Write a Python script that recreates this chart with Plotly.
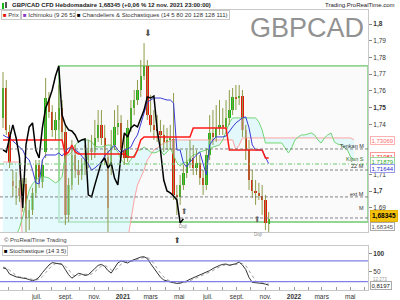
import plotly.graph_objects as go
import pandas as pd

FONT = "Liberation Sans, Arial, sans-serif"
W, H, RM = 400, 300, 32
PW = W - RM

# ---------------- data (weekly GBP/CAD) ----------------
START = "2020-04-20"
opens = [1.7438,1.7617,1.7354,1.7061,1.7031,1.7019,1.6971,1.7043,1.6839,1.6887,
 1.6989,1.7156,1.7055,1.7234,1.7557,1.7473,1.7366,1.7426,1.7497,1.7354,
 1.6857,1.7037,1.7216,1.7126,1.7096,1.7156,1.7186,1.7246,1.7234,1.7318,
 1.7396,1.7318,1.7204,1.7156,1.7276,1.7384,1.7408,1.7246,1.7198,1.7378,
 1.7497,1.7545,1.7605,1.7689,1.7749,1.7455,1.7396,1.7366,1.7360,1.7336,
 1.7294,1.7306,1.7312,1.6977,1.6965,1.7037,1.7108,1.7174,1.7198,1.7138,
 1.7168,1.7078,1.7037,1.7216,1.7348,1.7324,1.7378,1.7396,1.7384,1.7438,
 1.7485,1.7563,1.7557,1.7569,1.7366,1.7246,1.7066,1.7001,1.6989,1.6971,
 1.6947,1.6803]
highs = [1.7713,1.7665,1.7396,1.7126,1.7114,1.7066,1.7078,1.7078,1.6947,1.7019,
 1.7186,1.7186,1.7186,1.7677,1.7593,1.7515,1.7473,1.7635,1.7545,1.7396,
 1.7078,1.7306,1.7276,1.7186,1.7198,1.7276,1.7306,1.7336,1.7426,1.7485,
 1.7485,1.7396,1.7246,1.7366,1.7485,1.7515,1.7455,1.7336,1.7426,1.7545,
 1.7605,1.7665,1.7785,1.7886,1.7785,1.7575,1.7485,1.7455,1.7426,1.7396,
 1.7378,1.7396,1.7587,1.7037,1.7096,1.7156,1.7246,1.7306,1.7276,1.7246,
 1.7216,1.7126,1.7258,1.7455,1.7485,1.7515,1.7545,1.7497,1.7545,1.7605,
 1.7617,1.7635,1.7635,1.7605,1.7396,1.7306,1.7126,1.7066,1.7049,1.7037,
 1.6977,1.6875]
lows = [1.7378,1.7336,1.7138,1.6965,1.6917,1.6935,1.6875,1.6755,1.6767,1.6857,
 1.6959,1.7019,1.7019,1.7198,1.7438,1.7324,1.7306,1.7366,1.7306,1.6797,
 1.6815,1.7007,1.7078,1.7037,1.7066,1.7096,1.7138,1.7186,1.7198,1.7294,
 1.7276,1.7156,1.6755,1.7096,1.7246,1.7336,1.7198,1.7156,1.7174,1.7354,
 1.7455,1.7515,1.7563,1.7665,1.7426,1.7354,1.7306,1.7294,1.7276,1.7234,
 1.7246,1.7246,1.6947,1.6857,1.6917,1.7007,1.7078,1.7138,1.7096,1.7096,
 1.7037,1.6977,1.7007,1.7186,1.7276,1.7294,1.7336,1.7336,1.7366,1.7396,
 1.7455,1.7485,1.7515,1.7324,1.7186,1.7007,1.6959,1.6917,1.6947,1.6857,
 1.6767,1.6749]
closes = [1.7617,1.7366,1.7168,1.7031,1.7019,1.6971,1.7043,1.6839,1.6887,1.6989,
 1.7156,1.7055,1.7156,1.7557,1.7473,1.7366,1.7426,1.7497,1.7354,1.6857,
 1.7037,1.7216,1.7126,1.7096,1.7156,1.7186,1.7246,1.7234,1.7318,1.7396,
 1.7318,1.7204,1.6899,1.7276,1.7384,1.7408,1.7246,1.7198,1.7378,1.7497,
 1.7545,1.7605,1.7689,1.7749,1.7455,1.7396,1.7366,1.7360,1.7336,1.7294,
 1.7306,1.7312,1.6977,1.6965,1.7037,1.7108,1.7174,1.7198,1.7138,1.7168,
 1.7078,1.7037,1.7216,1.7348,1.7324,1.7378,1.7396,1.7384,1.7438,1.7485,
 1.7563,1.7557,1.7569,1.7366,1.7246,1.7066,1.7001,1.6989,1.6971,1.6947,
 1.6809,1.68345]

tenkan = [1.7336,1.7324,1.7318,1.7300,1.7282,1.7270,1.7246,1.7204,1.7186,1.7126,
 1.7049,1.7043,1.7186,1.7216,1.7216,1.7216,1.7216,1.7228,1.7210,1.7234,
 1.7258,1.7258,1.7246,1.7234,1.7210,1.7186,1.7162,1.7126,1.7138,1.7156,
 1.7174,1.7210,1.7234,1.7258,1.7276,1.7246,1.7228,1.7246,1.7252,1.7264,
 1.7306,1.7336,1.7396,1.7467,1.7533,1.7545,1.7557,1.7557,1.7557,1.7551,
 1.7545,1.7545,1.7527,1.7246,1.7246,1.7168,1.7144,1.7174,1.7198,1.7216,
 1.7234,1.7156,1.7096,1.7276,1.7306,1.7324,1.7324,1.7324,1.7330,1.7360,
 1.7384,1.7408,1.7426,1.7438,1.7444,1.7378,1.7276,1.7246,1.7246,1.7246,
 1.7204,1.71644]
kijun = ([1.7306]*19 + [1.7216,1.7234,1.7276,1.7234] + [1.7222]*15 + [1.7204]*3
         + [1.7246,1.7306] + [1.7324]*15 + [1.7378]*11 + [1.7246]*11 + [1.71981]*2)
senkou_a = [1.6678,1.6678,1.6695,1.6707,1.6731,1.6779,1.6845,1.6935,1.7007,1.7043,
 1.7066,1.7084,1.7084,1.7084,1.7078,1.7066,1.7049,1.7061,1.7084,1.7216,
 1.7216,1.7234,1.7276,1.7294,1.7306,1.7306,1.7306,1.7294,1.7270,1.7264,
 1.7264,1.7270,1.7276,1.7276,1.7258,1.7234,1.7186,1.7168,1.7162,1.7186,
 1.7216,1.7246,1.7246,1.7264,1.7246,1.7234,1.7228,1.7234,1.7246,1.7216,
 1.7234,1.7258,1.7216,1.7168,1.7150,1.7168,1.7174,1.7198,1.7216,1.7222,
 1.7234,1.7240,1.7246,1.7252,1.7264,1.7270,1.7276,1.7306,1.7354,1.7408,
 1.7438,1.7438,1.7438,1.7438,1.7438,1.7438,1.7438,1.7438,1.7414,1.7366,
 1.7288,1.7288,1.7288,1.7288,1.7288,1.7288,1.7258,1.7228,1.7258,1.7306,
 1.7324,1.7336,1.7336,1.7342,1.7348,1.7336,1.7306,1.7288,1.7318,1.7336,
 1.7348,1.7294,1.7282,1.7276,1.7258,1.7246,1.7204,1.71879]
senkou_b = ([1.7174]*6 + [1.6648]*32
            + [1.6707,1.6827,1.6947,1.7037,1.7078,1.7126,1.7186,1.7216,1.7246,1.7258,1.7276,1.7288,1.7294,1.7300]
            + [1.7306]*19 + [1.7246,1.7276] + [1.7318]*34 + [1.73069])

stoch_k = [60,57,42,37,34,32,31,29,26,23, 26,33,46,58,68,75,73,70,70,55,
 40,30,38,44,42,38,40,48,58,67, 70,64,52,45,58,74,80,76,74,80,
 84,88,91,92,87,72,58,44,33,25, 21,19,17,15,16,18,22,27,31,36,
 39,42,46,52,58,63,67,70,71,67, 69,72,77,68,55,32,18,17,18,15,
 13,10]
stoch_d = [62,60,53,45,38,34,32,31,29,26, 25,27,35,46,57,67,72,73,71,65,
 55,42,36,37,41,41,40,42,49,58, 65,67,62,54,52,59,71,77,77,77,
 79,84,88,90,90,84,72,58,45,34, 26,22,19,17,16,16,19,22,27,31,
 35,39,42,47,52,58,63,67,69,69, 69,69,73,72,67,52,35,22,18,17,
 15,13]

LAG = 26
levels = [1.7252, 1.7162, 1.7126, 1.6965, 1.6839]
level_names = ["Tenkan M", "Kijun S", "22 M", "ext M", "M"]
BOX_START, BOX_LOW, BOX_HIGH = "2020-08-17 12:00", 1.6815, 1.7749
X_START, X_END = "2020-04-13 14:00", "2022-06-07 22:00"

price_ticks = [1.69, 1.70, 1.71, 1.74, 1.75, 1.76, 1.77, 1.78, 1.79, 1.80]
price_tick_text = ["1,69", "<b>1,7</b>", "1,71", "1,74", "<b>1,75</b>", "1,76", "1,77", "1,78", "1,79", "<b>1,8</b>"]
month_ticks = pd.date_range("2020-05-01", "2022-06-01", freq="MS")
month_labels = ["", "", "juil.", "", "sept.", "", "nov.", "", "<b>2021</b>", "", "mars", "", "mai", "",
                "juil.", "", "sept.", "", "nov.", "", "<b>2022</b>", "", "mars", "", "mai", ""]

# ---------------- figure ----------------
n = len(closes)
dates = pd.date_range(START, periods=len(senkou_a), freq="7D")
cdates = dates[:n]

fig = go.Figure()
# Ichimoku cloud
fig.add_trace(go.Scatter(x=dates, y=senkou_b, mode="lines", line=dict(color="#ffa3a3", width=1), hoverinfo="skip"))
fig.add_trace(go.Scatter(x=dates, y=senkou_a, mode="lines", line=dict(color="#74d674", width=1),
                         fill="tonexty", fillcolor="rgba(212,246,252,0.6)", hoverinfo="skip"))
# wicks
wx, wy = [], []
for d, h, l in zip(cdates, highs, lows):
    wx += [d, d, None]
    wy += [h, l, None]
fig.add_trace(go.Scatter(x=wx, y=wy, mode="lines", line=dict(color="#8e9b48", width=1), hoverinfo="skip"))
# bodies
body = [c - o for o, c in zip(opens, closes)]
bcol = ["#17b817" if c >= o else "#e4150b" for o, c in zip(opens, closes)]
fig.add_trace(go.Bar(x=cdates, y=body, base=opens, marker=dict(color=bcol, line=dict(width=0)),
                     width=5 * 86400000, hoverinfo="skip"))
# Tenkan / Kijun / Chikou
fig.add_trace(go.Scatter(x=cdates, y=tenkan, mode="lines", line=dict(color="#3a3ad6", width=1), hoverinfo="skip"))
fig.add_trace(go.Scatter(x=cdates, y=kijun, mode="lines", line=dict(color="#ff1a1a", width=1.5), hoverinfo="skip"))
fig.add_trace(go.Scatter(x=cdates[:n - LAG], y=closes[LAG:], mode="lines", line=dict(color="#000000", width=1.5),
                         hoverinfo="skip"))
# Stochastic
fig.add_trace(go.Scatter(x=cdates, y=stoch_d, mode="lines", line=dict(color="#a0a0a0", width=1, dash="dot"),
                         xaxis="x2", yaxis="y2", hoverinfo="skip"))
fig.add_trace(go.Scatter(x=cdates, y=stoch_k, mode="lines", line=dict(color="#333333", width=1),
                         xaxis="x2", yaxis="y2", hoverinfo="skip"))


def px(x):
    return x / PW


def py(y):
    return (H - y) / H


shapes = []
shapes.append(dict(type="rect", xref="x", yref="y", x0=BOX_START, x1=X_END, y0=BOX_LOW, y1=BOX_HIGH,
                   line=dict(color="#92d692", width=1.8), fillcolor="rgba(0,0,0,0.018)", layer="below"))
for lv, nm in zip(levels, level_names):
    if nm == "Kijun S":
        ln = dict(color="#72c672", width=1, dash="4px,2px,1px,2px")
    else:
        ln = dict(color="#666666", width=0.8, dash="3px,2px")
    shapes.append(dict(type="line", xref="paper", yref="y", x0=0, x1=1, y0=lv, y1=lv, line=ln))
for lv in (20, 80):
    shapes.append(dict(type="line", xref="paper", yref="y2", x0=0, x1=1, y0=lv, y1=lv,
                       line=dict(color="#8080e6", width=1.2)))
# header icon
shapes += [
    dict(type="rect", xref="paper", yref="paper", x0=px(2), x1=px(4), y0=py(9), y1=py(3), fillcolor="#17b817", line=dict(width=0)),
    dict(type="rect", xref="paper", yref="paper", x0=px(5), x1=px(7), y0=py(8), y1=py(2), fillcolor="#555", line=dict(width=0)),
]
fig.update_layout(shapes=shapes)

anns = []


def ann(x, y, text, size=6.5, color="#333", xanchor="left", family=FONT, **kw):
    anns.append(dict(xref="paper", yref="paper", x=px(x), y=py(y), text=text, showarrow=False,
                     font=dict(size=size, color=color, family=family), xanchor=xanchor, yanchor="middle", **kw))


ann(10, 5.5, "<b>GBP/CAD CFD Hebdomadaire 1,68345 (+0,06 % 12 nov. 2021 23:00:00)</b>", size=6, color="#222")
ann(397, 5.5, "Trading.ProRealTime.com", size=6, color="#222", xanchor="right")
ann(1, 15.5, "<span style='color:#e4150b'>■</span> Prix", size=6, bordercolor="#c8c8c8", borderwidth=1, borderpad=1, bgcolor="white")
ann(21, 15.5, "<span style='color:#8a3cc8'>■</span> Ichimoku (9 26 52)", size=6, bordercolor="#c8c8c8", borderwidth=1, borderpad=1, bgcolor="white")
ann(75, 15.5, "<span style='color:#000'>■</span> Chandeliers & Stochastiques (14 5 80 20 128 128 111)", size=6,
    bordercolor="#c8c8c8", borderwidth=1, borderpad=1, bgcolor="white")
ann(307, 28, "GBPCAD", size=27, color="#929292", xanchor="center", family="Liberation Sans, Arial")
ann(148, 33, "⬇", size=9, color="#555", xanchor="center", family="DejaVu Sans")
ann(185, 211, "⬆", size=8, color="#666", xanchor="center", family="DejaVu Sans")
ann(183, 226, "Doji", size=4.5, color="#888", xanchor="center")
ann(257, 219, "⬆", size=8, color="#666", xanchor="center", family="DejaVu Sans")
ann(258, 234, "Doji", size=4.5, color="#888", xanchor="center")
ann(177, 240, "⬆", size=8, color="#444", xanchor="center", family="DejaVu Sans")
ann(2, 240, "© ProRealTime Trading", size=6, color="#444")
ann(2, 251, "<span style='color:#000'>■</span> Stochastique (14 3 5)", size=6, bordercolor="#c8c8c8",
    borderwidth=1, borderpad=1, bgcolor="white")
# level names
for nm, yy in zip(level_names, [146, 159, 166.5, 193.5, 208]):
    ann(366, yy, nm, size=5.5, color="#2d6e2d" if nm == "Kijun S" else "#333", xanchor="right")
# right price labels
ann(370, 140.5, "1,73069", size=6, color="#ff6b6b", bordercolor="#ffb0b0", borderwidth=1, borderpad=0.5, bgcolor="white")
ann(370, 156, "1,71981", size=6, color="#ff1a1a", bordercolor="#ff9a9a", borderwidth=1, borderpad=0.5, bgcolor="white")
ann(370, 161.5, "1,71879", size=6, color="#2fae2f", bordercolor="#9ad89a", borderwidth=1, borderpad=0.5, bgcolor="white")
ann(370, 168, "1,71644", size=6, color="#2a2ad0", bordercolor="#9a9ae8", borderwidth=1, borderpad=0.5, bgcolor="white")
ann(370, 216, "<b>1,68345</b>", size=6.5, color="#000", bordercolor="#e2b000", borderwidth=1, borderpad=1, bgcolor="#f4c20d")
ann(370, 226, "1,68345", size=6, color="#555", bordercolor="#aaaaaa", borderwidth=1, borderpad=0.5, bgcolor="white")
ann(371, 279, "12,273", size=4.5, color="#999")
ann(370, 285.5, "0,8197", size=6, color="#222", bordercolor="#aaaaaa", borderwidth=1, borderpad=0.5, bgcolor="white")
fig.update_layout(annotations=anns)

fig.update_layout(
    width=W, height=H, margin=dict(l=0, r=RM, t=0, b=0, pad=0),
    paper_bgcolor="white", plot_bgcolor="white", showlegend=False, hovermode=False,
    font=dict(family=FONT, size=6.5, color="#333"),
    xaxis=dict(domain=[0, 1], anchor="y", range=[X_START, X_END], showticklabels=False, showgrid=False,
               zeroline=False, showline=True, linecolor="#c8c8c8", mirror=True, ticks=""),
    yaxis=dict(domain=[py(232), py(10)], anchor="x", side="right", range=[1.6755, 1.8084],
               tickvals=price_ticks, ticktext=price_tick_text, ticks="outside", ticklen=3, tickcolor="#888",
               tickfont=dict(size=6.5, color="#333"), showgrid=False, zeroline=False, showline=True,
               linecolor="#c8c8c8", mirror=True, automargin=False),
    xaxis2=dict(domain=[0, 1], anchor="y2", range=[X_START, X_END], matches="x", tickvals=month_ticks,
                ticktext=month_labels, ticks="inside", ticklen=3, tickcolor="#999",
                tickfont=dict(size=6.5, color="#333"), showgrid=False, zeroline=False, showline=True,
                linecolor="#c8c8c8", mirror=True, automargin=False),
    yaxis2=dict(domain=[py(290), py(246)], anchor="x2", side="right", range=[-4, 123],
                tickvals=[50, 100], ticktext=["50", "<b>100</b>"], ticks="outside", ticklen=3, tickcolor="#888",
                tickfont=dict(size=6.5, color="#333"), showgrid=False, zeroline=False, showline=True,
                linecolor="#c8c8c8", mirror=True, automargin=False),
    bargap=0,
)

fig.write_html("out.html")
